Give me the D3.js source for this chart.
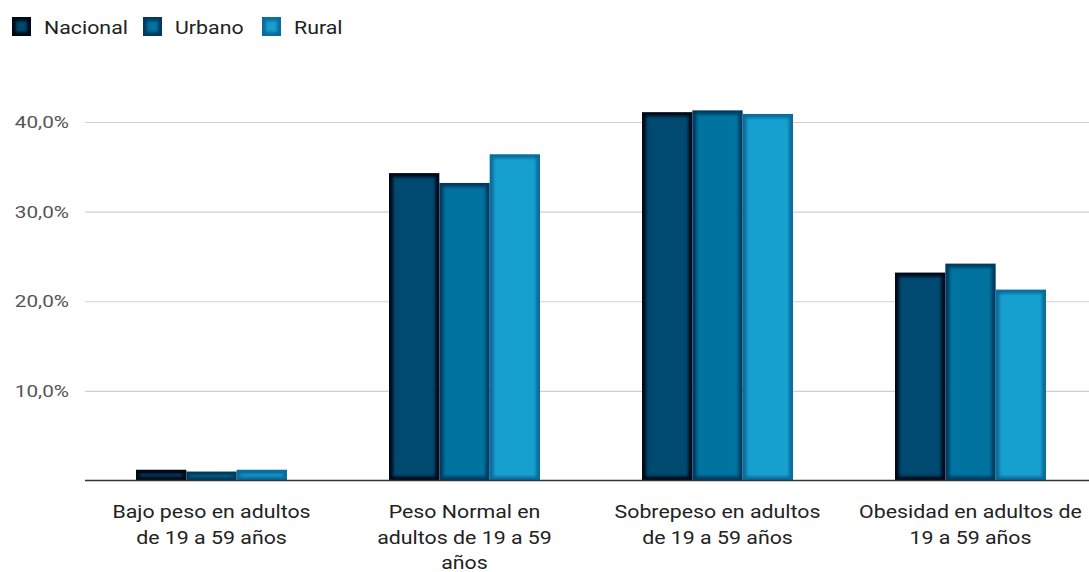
<!DOCTYPE html>
<html>
<head>
<meta charset="utf-8">
<script src="https://cdn.jsdelivr.net/npm/d3@7"></script>
<style>
  body { margin: 0; background: #fff; }
  svg { font-family: Roboto, 'Noto Sans', sans-serif; }
</style>
</head>
<body>
<div class="canvas"></div>
<script>
const dimensions = { height: 572, width: 1089 };

// data
const categories = [
    ['Bajo peso en adultos', 'de 19 a 59 años'],
    ['Peso Normal en', 'adultos de 19 a 59', 'años'],
    ['Sobrepeso en adultos', 'de 19 a 59 años'],
    ['Obesidad en adultos de', '19 a 59 años']
];
const series = ['Nacional', 'Urbano', 'Rural'];
const nacional = [1.2, 34.3, 41.1, 23.2];
const urbano = [1.0, 33.2, 41.3, 24.2];
const rural = [1.2, 36.4, 40.9, 21.3];
const yTicks = [10, 20, 30, 40];

const values = [nacional, urbano, rural];
const coreColour = ['#024a70', '#0473a0', '#18a0d0'];
const edgeColour = ['#000818', '#013a5e', '#0a6c9c'];

// the source picture is stretched sideways, so text is too
const stretch = 1.22;

const svg = d3.select('.canvas')
    .append('svg')
    .attr('width', dimensions.width)
    .attr('height', dimensions.height);

const defs = svg.append('defs');
defs.append('filter')
    .attr('id', 'soft')
    .attr('x', '-20%').attr('y', '-20%')
    .attr('width', '140%').attr('height', '140%')
    .append('feGaussianBlur')
    .attr('stdDeviation', 1.6);

const x0 = d3.scaleBand()
    .domain(d3.range(categories.length))
    .range([85, 1097]);

const x1 = d3.scaleBand()
    .domain(d3.range(series.length))
    .range([(x0.bandwidth() - 151) / 2, (x0.bandwidth() + 151) / 2]);

const y = d3.scaleLinear()
    .domain([0, 45])
    .range([480.5, 77.2]);

const addText = (g, x, yPos, str, size, colour, anchor) => {
    g.append('text')
        .attr('transform', `translate(${x}, ${yPos}) scale(${stretch}, 1)`)
        .attr('text-anchor', anchor)
        .attr('font-size', size)
        .attr('fill', colour)
        .text(str);
};

// grid
const grid = svg.append('g')
    .attr('transform', 'translate(85, 0)')
    .call(d3.axisLeft(y).tickValues(yTicks).tickSize(-1010).tickFormat(''));
grid.select('.domain').remove();
grid.selectAll('line').attr('stroke', '#d0d0d0').attr('stroke-width', 1.2);

// y labels
const yLabels = svg.append('g');
yTicks.forEach(t => {
    addText(yLabels, 69, y(t) + 6, d3.format('.1f')(t).replace('.', ',') + '%', 17, '#555', 'end');
});

// bars
const drawBar = (g, x, yTop, w, h, s) => {
    g.append('rect')
        .attr('x', x).attr('y', yTop)
        .attr('width', w).attr('height', h)
        .attr('fill', edgeColour[s]);
    const inset = Math.min(4, h / 2.5);
    g.append('rect')
        .attr('x', x + inset).attr('y', yTop + inset)
        .attr('width', Math.max(0, w - inset * 2))
        .attr('height', Math.max(0, h - inset * 2))
        .attr('fill', coreColour[s])
        .attr('filter', 'url(#soft)');
};

const bars = svg.append('g');
categories.forEach((c, i) => {
    series.forEach((s, j) => {
        const v = values[j][i];
        drawBar(bars, x0(i) + x1(j), y(v), x1.bandwidth(), y(0) - y(v), j);
    });
});

// baseline
svg.append('line')
    .attr('x1', 85).attr('x2', 1089)
    .attr('y1', y(0)).attr('y2', y(0))
    .attr('stroke', '#333')
    .attr('stroke-width', 1.5);

// category labels
const labels = svg.append('g');
categories.forEach((lines, i) => {
    lines.forEach((line, k) => {
        addText(labels, x0(i) + x0.bandwidth() / 2, 518 + k * 25.5, line, 17.5, '#222', 'middle');
    });
});

// legend
const legendX = [12, 143, 262];
const legend = svg.append('g');
series.forEach((s, j) => {
    drawBar(legend, legendX[j], 17, 19, 19, j);
    addText(legend, legendX[j] + 32, 34, s, 17.5, '#222', 'start');
});
</script>
</body>
</html>
